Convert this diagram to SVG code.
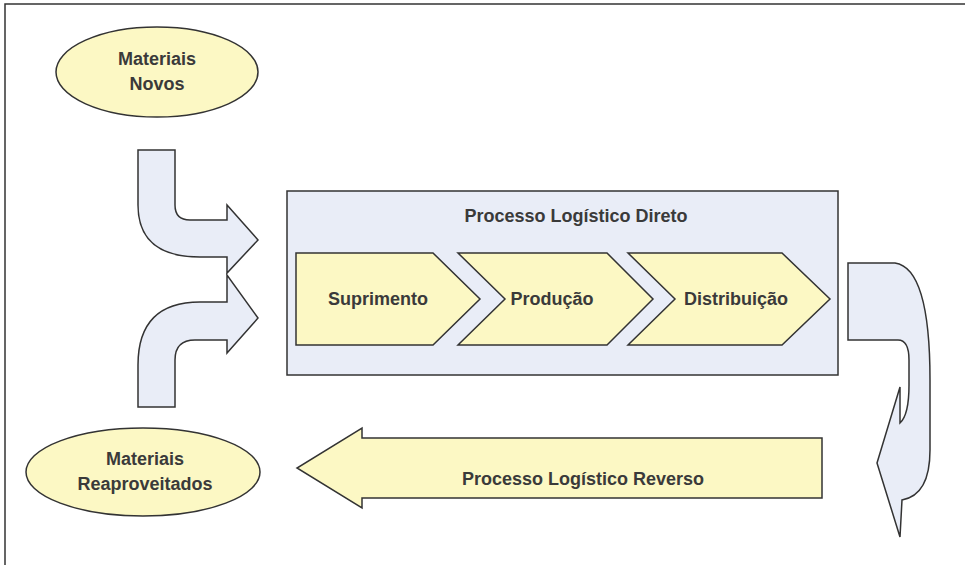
<svg xmlns="http://www.w3.org/2000/svg" width="965" height="565" viewBox="0 0 965 565">
  <style>
    .ln { stroke: #333333; stroke-width: 1.5; stroke-linejoin: miter; }
    .yel { fill: #fcf8c4; }
    .blu { fill: #e9edf7; }
    .lbl { font-family: "Liberation Sans", Arial, sans-serif; font-weight: bold; font-size: 18px; fill: #3a3a3a; text-anchor: middle; }
  </style>

  <rect x="0" y="0" width="965" height="565" fill="#ffffff"/>
  <!-- page frame -->
  <path d="M5,565 L5,4 L965,4" fill="none" stroke="#333333" stroke-width="1.5"/>

  <g id="materiais-novos">
    <ellipse cx="157" cy="72" rx="101" ry="45" class="yel ln"/>
    <text x="157" y="65" class="lbl">Materiais</text>
    <text x="157" y="90" class="lbl">Novos</text>
  </g>

  <g id="materiais-reaproveitados">
    <ellipse cx="143" cy="472" rx="117" ry="44" class="yel ln"/>
    <text x="145" y="465" class="lbl">Materiais</text>
    <text x="145" y="490" class="lbl">Reaproveitados</text>
  </g>

  <g id="processo-direto">
    <rect x="287" y="191" width="551" height="184" class="blu ln"/>
    <text x="576" y="222" class="lbl">Processo Logístico Direto</text>
  </g>

  <g id="suprimento">
    <polygon points="296,253 433,253 480,299 433,345 296,345" class="yel ln"/>
    <text x="378" y="305" class="lbl">Suprimento</text>
  </g>

  <g id="producao">
    <polygon points="458,253 607,253 653,299 607,345 458,345 505,299" class="yel ln"/>
    <text x="552" y="305" class="lbl">Produção</text>
  </g>

  <g id="distribuicao">
    <polygon points="628,253 782,253 830,299 782,345 628,345 675,299" class="yel ln"/>
    <text x="736" y="305" class="lbl">Distribuição</text>
  </g>

  <g id="connectors">
    <!-- inflow of new materials -->
    <path d="M138,150 L175,150 L175,205 Q175,220 190,220 L227,220 L227,205 L258,240 L227,273 L227,257 L200,257 Q138,257 138,205 Z" class="blu ln"/>
    <!-- inflow of reused materials -->
    <path d="M138,407 L138,365 Q138,302 200,302 L227,302 L227,275 L258,318 L227,353 L227,340 L195,340 Q175,340 175,360 L175,407 Z" class="blu ln"/>
    <!-- outflow turning down into the reverse flow -->
    <path d="M848,263 L895,263 Q930,268 930,380 L930,450 Q930,495 902,500 L900,537 L877,463 L900,387 L900,423 Q909,415 909,385 L909,360 Q909,340 898,340 L848,340 Z" class="blu ln"/>
    <!-- reverse logistics arrow -->
    <g id="processo-reverso">
      <polygon points="822,438 362,438 362,428 297,468 362,508 362,498 822,498" class="yel ln"/>
      <text x="583" y="485" class="lbl">Processo Logístico Reverso</text>
    </g>
  </g>
</svg>
